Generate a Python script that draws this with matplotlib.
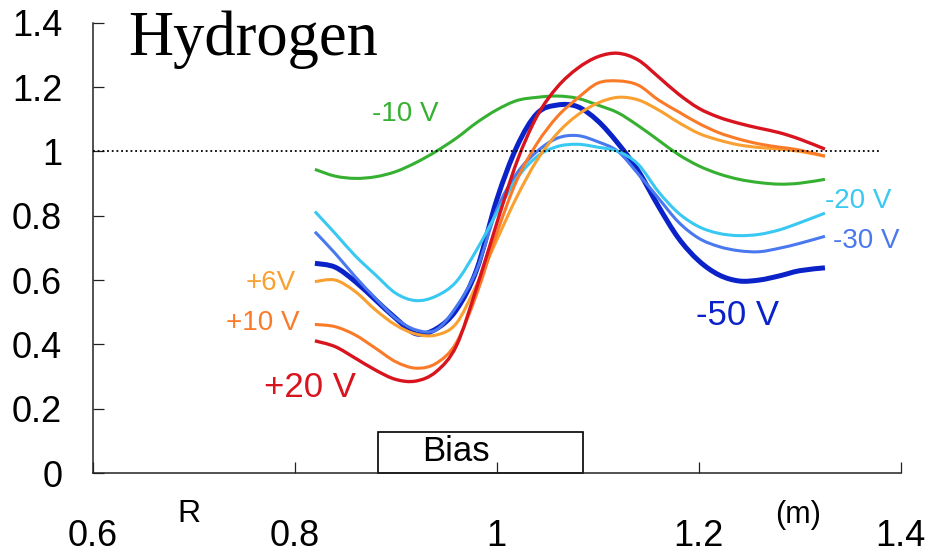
#!/usr/bin/env python3

import matplotlib
matplotlib.use('Agg')
import matplotlib.pyplot as plt
from matplotlib.patches import Rectangle, PathPatch
from matplotlib.path import Path

# radius (m)
r= [0.82, 0.84, 0.86, 0.88, 0.90, 0.92, 0.94, 0.96, 0.98, 1.00, 1.02, 1.04, 1.06,
    1.08, 1.10, 1.12, 1.14, 1.16, 1.18, 1.20, 1.22, 1.24, 1.26, 1.28, 1.30, 1.325]

p20= [0.411, 0.393, 0.357, 0.320, 0.291, 0.286, 0.315, 0.395, 0.575, 0.776, 0.968, 1.110, 1.200,
      1.258, 1.294, 1.305, 1.284, 1.232, 1.178, 1.134, 1.106, 1.087, 1.072, 1.058, 1.038, 1.007]
p10= [0.462, 0.455, 0.429, 0.388, 0.346, 0.326, 0.341, 0.405, 0.555, 0.745, 0.911, 1.025, 1.108,
      1.165, 1.212, 1.219, 1.206, 1.160, 1.123, 1.087, 1.058, 1.038, 1.023, 1.013, 1.004, 0.985]
p6=  [0.595, 0.600, 0.564, 0.507, 0.460, 0.432, 0.429, 0.465, 0.585, 0.724, 0.859, 0.973, 1.056,
      1.113, 1.150, 1.168, 1.160, 1.129, 1.090, 1.056, 1.035, 1.020, 1.012, 1.007, 1.000, 0.985]
m10= [0.944, 0.923, 0.916, 0.921, 0.937, 0.965, 1.000, 1.041, 1.089, 1.129, 1.158, 1.168, 1.172,
      1.165, 1.144, 1.120, 1.080, 1.035, 0.990, 0.955, 0.930, 0.913, 0.903, 0.898, 0.901, 0.913]
m20= [0.813, 0.745, 0.675, 0.616, 0.559, 0.536, 0.550, 0.595, 0.693, 0.808, 0.916, 0.984, 1.015,
      1.022, 1.013, 1.000, 0.960, 0.875, 0.808, 0.766, 0.745, 0.738, 0.742, 0.756, 0.778, 0.808]
m30= [0.750, 0.683, 0.610, 0.543, 0.481, 0.445, 0.445, 0.517, 0.630, 0.818, 0.932, 1.000, 1.041,
      1.049, 1.030, 1.000, 0.930, 0.855, 0.780, 0.730, 0.704, 0.691, 0.688, 0.699, 0.714, 0.736]
m50= [0.652, 0.640, 0.595, 0.538, 0.481, 0.433, 0.448, 0.507, 0.631, 0.849, 1.015, 1.118, 1.144,
      1.139, 1.095, 1.025, 0.940, 0.830, 0.730, 0.660, 0.616, 0.597, 0.600, 0.613, 0.629, 0.638]

bias_range= [0.882, 1.085]
xticks= [0.6, 0.8, 1.0, 1.2, 1.4]
xlabels= ['0.6', '0.8', '1', '1.2', '1.4']
yticks= [0, 0.2, 0.4, 0.6, 0.8, 1.0, 1.2, 1.4]
ylabels= ['0', '0.2', '0.4', '0.6', '0.8', '1', '1.2', '1.4']

plt.rcParams['font.family']= ['Liberation Sans', 'DejaVu Sans']

def smooth_line(ax, x, y, color, lw):
    # smoothed line (like a spreadsheet "smooth line"), drawn as bezier path in data coords
    verts= [(x[0], y[0])]
    codes= [Path.MOVETO]
    n= len(x)
    for i in range(n-1):
        i0= max(i-1, 0)
        i3= min(i+2, n-1)
        c1= (x[i]+(x[i+1]-x[i0])/6.0, y[i]+(y[i+1]-y[i0])/6.0)
        c2= (x[i+1]-(x[i3]-x[i])/6.0, y[i+1]-(y[i3]-y[i])/6.0)
        verts+= [c1, c2, (x[i+1], y[i+1])]
        codes+= [Path.CURVE4]*3
    patch= PathPatch(Path(verts, codes), facecolor='none', edgecolor=color, lw=lw,
                     capstyle='butt', transform=ax.transData, zorder=3)
    ax.add_patch(patch)

fig= plt.figure(figsize=(9.3, 5.55), dpi=100)
ax= fig.add_axes([0.0997, 0.1477, 0.8688, 0.8114])

smooth_line(ax, r, m10, '#35b030', 2.2)
smooth_line(ax, r, m50, '#0a22c8', 3.6)
smooth_line(ax, r, m30, '#4a78ee', 2.2)
smooth_line(ax, r, m20, '#38c8f2', 2.2)
smooth_line(ax, r, p6, '#f9a030', 2.2)
smooth_line(ax, r, p10, '#fb7a28', 2.2)
smooth_line(ax, r, p20, '#d8141e', 2.4)

ax.plot([0.6, 1.38], [1, 1], color='black', lw=1.3, ls=(0, (1, 1.6)), zorder=4)

ax.add_patch(Rectangle((bias_range[0], 0), bias_range[1]-bias_range[0], 0.1266,
                       fill=False, edgecolor='black', lw=1.2, zorder=2, clip_on=False))
ax.text(0.9595, 0.066, 'Bias', fontsize=25, ha='center', va='center')

ax.text(0.909, 1.117, '-10 V', color='#35b030', fontsize=20, ha='center', va='center')
ax.text(0.801, 0.59, '+6V', color='#f9a030', fontsize=20, ha='right', va='center')
ax.text(0.805, 0.465, '+10 V', color='#fb7a28', fontsize=20, ha='right', va='center')
ax.text(0.861, 0.267, '+20 V', color='#d8141e', fontsize=25, ha='right', va='center')
ax.text(1.238, 0.491, '-50 V', color='#0a22c8', fontsize=25, ha='center', va='center')
ax.text(1.358, 0.846, '-20 V', color='#38c8f2', fontsize=20, ha='center', va='center')
ax.text(1.366, 0.722, '-30 V', color='#4a78ee', fontsize=20, ha='center', va='center')

ax.text(0.695, -0.127, 'R', fontsize=23, ha='center', va='center', clip_on=False)
ax.text(1.298, -0.131, '(m)', fontsize=22, ha='center', va='center', clip_on=False)

fig.text(128/930, 1-55/555, 'Hydrogen', fontsize=45, family='Liberation Serif', va='baseline')

ax.set_xlim(0.6, 1.4)
ax.set_ylim(0, 1.4)
ax.set_xticks(xticks)
ax.set_xticklabels(xlabels)
ax.set_yticks(yticks)
ax.set_yticklabels(ylabels)
ax.spines['top'].set_visible(False)
ax.spines['right'].set_visible(False)
for s in ['left', 'bottom']:
    ax.spines[s].set_linewidth(1.1)
    ax.spines[s].set_color('#222222')
ax.tick_params(axis='both', direction='in', length=8, width=0.9, color='#222222', labelsize=26)
ax.tick_params(axis='x', pad=33)
ax.tick_params(axis='y', pad=22)

plt.savefig('out.png', dpi=100)
